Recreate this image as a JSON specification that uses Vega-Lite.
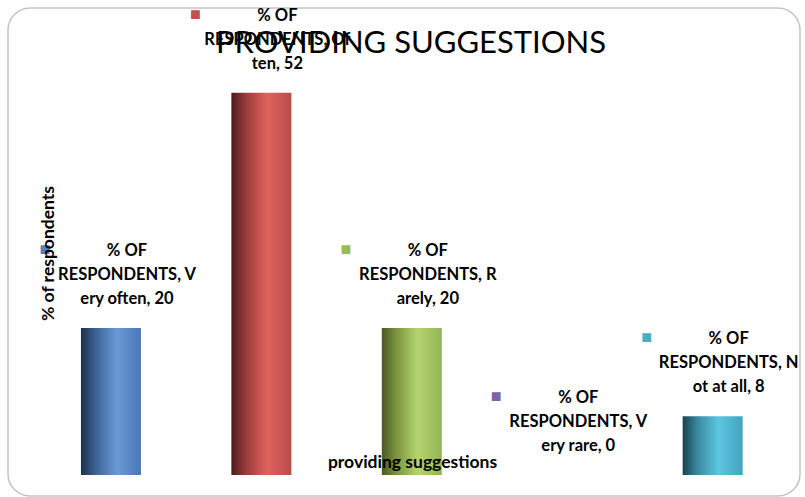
{
  "$schema": "https://vega.github.io/schema/vega-lite/v6.json",
  "autosize": "none",
  "width": 792,
  "height": 488,
  "padding": {"left": 8, "top": 8, "right": 5, "bottom": 1},
  "background": "white",
  "config": {
    "view": {"stroke": "#c4c4c4", "strokeWidth": 1.5, "cornerRadius": 22},
    "font": "Lato"
  },
  "title": {
    "text": "PROVIDING SUGGESTIONS",
    "font": "Lato",
    "fontSize": 31,
    "fontWeight": "normal",
    "color": "#000000",
    "anchor": "middle",
    "frame": "group",
    "offset": 0,
    "baseline": "alphabetic",
    "dy": 78,
    "dx": 7,
    "zindex": 1
  },
  "data": {
    "values": [
      {"cat": "Very often", "value": 20, "label": "% OF|RESPONDENTS, V|ery often, 20"},
      {"cat": "Often", "value": 52, "label": "% OF|RESPONDENTS, Of|ten, 52"},
      {"cat": "Rarely", "value": 20, "label": "% OF|RESPONDENTS, R|arely, 20"},
      {"cat": "Very rare", "value": 0, "label": "% OF|RESPONDENTS, V|ery rare, 0"},
      {"cat": "Not at all", "value": 8, "label": "% OF|RESPONDENTS, N|ot at all, 8"}
    ]
  },
  "encoding": {
    "x": {
      "field": "cat",
      "type": "nominal",
      "sort": null,
      "scale": {"paddingInner": 0.601, "paddingOuter": 0.433, "align": 0.56},
      "axis": {
        "title": "providing suggestions",
        "zindex": 1,
        "labels": false, "ticks": false, "domain": false, "grid": false,
        "titleFont": "Lato", "titleFontSize": 17.5, "titleFontWeight": "bold", "titleColor": "#000000",
        "titleX": 404, "titleY": -34, "titleBaseline": "middle", "titleAlign": "center"
      }
    },
    "y": {
      "field": "value",
      "type": "quantitative",
      "scale": {"domain": [-2.86, 63.54], "nice": false, "zero": false},
      "axis": {
        "title": "% of respondents",
        "zindex": 1,
        "labels": false, "ticks": false, "domain": false, "grid": false,
        "titleFont": "Lato", "titleFontSize": 17.5, "titleFontWeight": "bold", "titleColor": "#000000",
        "titleX": 40, "titleY": 245, "titleAngle": -90, "titleBaseline": "middle", "titleAlign": "center"
      }
    }
  },
  "layer": [
    {
      "mark": {"type": "bar"},
      "encoding": {
        "y2": {"datum": 0},
        "color": {
          "condition": [
            {"test": "datum.cat === 'Very often'", "value": {"gradient": "linear", "x1": 0, "y1": 0, "x2": 1, "y2": 0, "stops": [{"offset": 0, "color": "#1d3249"}, {"offset": 0.25, "color": "#3c6396"}, {"offset": 0.6, "color": "#6a9ad6"}, {"offset": 1, "color": "#4a78b4"}]}},
            {"test": "datum.cat === 'Often'", "value": {"gradient": "linear", "x1": 0, "y1": 0, "x2": 1, "y2": 0, "stops": [{"offset": 0, "color": "#4b1b1b"}, {"offset": 0.25, "color": "#9a3d3b"}, {"offset": 0.6, "color": "#e0625f"}, {"offset": 1, "color": "#b94c4a"}]}},
            {"test": "datum.cat === 'Rarely'", "value": {"gradient": "linear", "x1": 0, "y1": 0, "x2": 1, "y2": 0, "stops": [{"offset": 0, "color": "#4b5a22"}, {"offset": 0.25, "color": "#7c9640"}, {"offset": 0.6, "color": "#b6d46e"}, {"offset": 1, "color": "#94b356"}]}},
            {"test": "datum.cat === 'Very rare'", "value": {"gradient": "linear", "x1": 0, "y1": 0, "x2": 1, "y2": 0, "stops": [{"offset": 0, "color": "#3a2c4c"}, {"offset": 0.25, "color": "#6a5290"}, {"offset": 0.6, "color": "#9a80c0"}, {"offset": 1, "color": "#7a62a0"}]}}
          ],
          "value": {"gradient": "linear", "x1": 0, "y1": 0, "x2": 1, "y2": 0, "stops": [{"offset": 0, "color": "#19414d"}, {"offset": 0.25, "color": "#3a8aa0"}, {"offset": 0.6, "color": "#5cc7e2"}, {"offset": 1, "color": "#43a3bc"}]}
        }
      }
    },
    {
      "mark": {
        "type": "text", "lineBreak": "|", "font": "Lato", "fontSize": 16.5, "fontWeight": "bold",
        "lineHeight": 24, "baseline": "middle", "align": "center", "dx": 16, "dy": -77, "color": "#000000"
      },
      "encoding": {"text": {"field": "label"}}
    },
    {
      "mark": {"type": "text", "text": "■", "fontSize": 18, "baseline": "middle", "align": "center", "dx": -66, "dy": -78},
      "encoding": {
        "color": {
          "field": "cat", "type": "nominal", "legend": null,
          "scale": {"domain": ["Very often", "Often", "Rarely", "Very rare", "Not at all"], "range": ["#4F81BD", "#C0504D", "#9BBB59", "#8064A2", "#4BACC6"]}
        }
      }
    }
  ]
}
